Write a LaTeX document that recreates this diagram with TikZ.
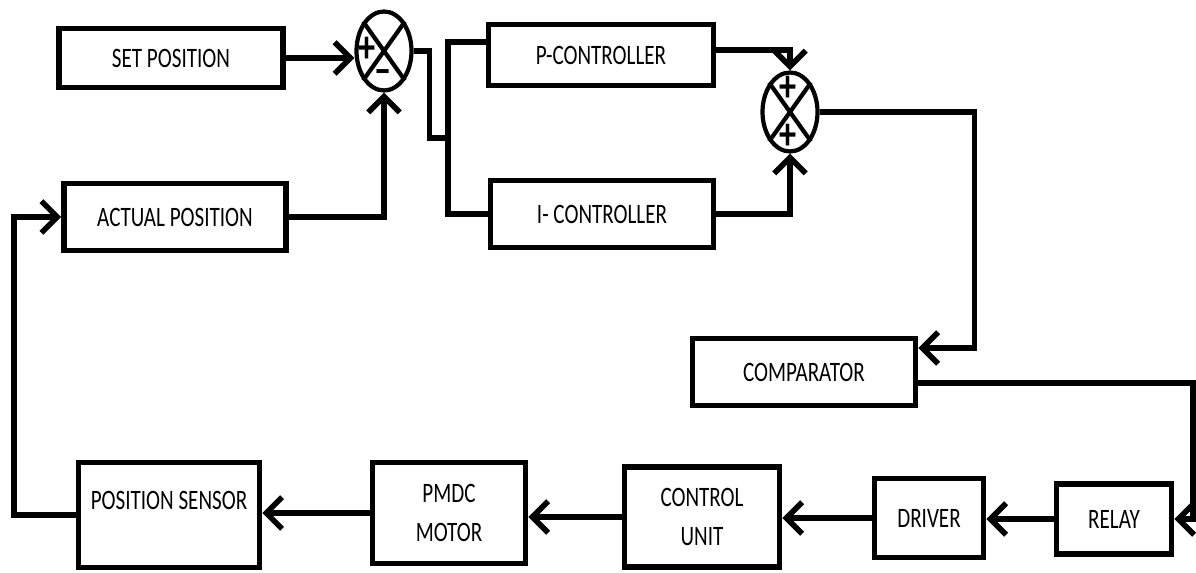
\documentclass[tikz,border=0pt]{standalone}
\usepackage{fontspec}
\setmainfont{Carlito}[FakeStretch=0.75]
\usetikzlibrary{arrows.meta, shapes.geometric}

\begin{document}
\begin{tikzpicture}[x=0.02cm, y=-0.02cm,
  box/.style={rectangle, draw, line width=3.2pt, align=center, inner sep=2pt,
              font=\fontsize{16}{22}\selectfont},
  junc/.style={ellipse, draw, line width=2.4pt, inner sep=0pt,
               minimum width=1.1cm, minimum height=1.58cm},
  sign/.style={font=\fontsize{26}{26}\selectfont\bfseries, inner sep=0pt},
  wire/.style={line width=3.2pt},
  arr/.style={wire, -{Straight Barb[length=9pt, width=18pt]}}
]
\useasboundingbox (0,0) rectangle (1196,573);

% Top: set point and feedback value
\node[box, minimum width=4.48cm, minimum height=1.18cm] (setpos) at (171,58)  {SET POSITION};
\node[box, minimum width=4.44cm, minimum height=1.34cm] (actpos) at (175,217) {ACTUAL POSITION};

% Error junction
\node[junc] (sum1) at (384,51) {};
\draw[line width=2.4pt] (sum1.north west) -- (sum1.south east)
                        (sum1.north east) -- (sum1.south west);
\node[sign] (sum1p) at (367,50) {+};
\node[sign] (sum1m) at (383,77) {--};

% PI branches
\node[box, minimum width=4.5cm, minimum height=1.22cm]  (pctrl) at (601,55)  {P-CONTROLLER};
\node[box, minimum width=4.46cm, minimum height=1.34cm] (ictrl) at (602,214) {I- CONTROLLER};
\coordinate (split) at (448,138);

% Summing junction
\node[junc] (sum2) at (790,112) {};
\draw[line width=2.4pt] (sum2.north west) -- (sum2.south east)
                        (sum2.north east) -- (sum2.south west);
\node[sign] (sum2a) at (788,89)  {+};
\node[sign] (sum2b) at (788,137) {+};

\node[box, minimum width=4.46cm, minimum height=1.34cm] (comp) at (804,372) {COMPARATOR};

% Bottom row
\node[box, minimum width=2.3cm,  minimum height=1.4cm]  (relay)  at (1114,519) {RELAY};
\node[box, minimum width=2.18cm, minimum height=1.58cm] (driver) at (929,518)  {DRIVER};
\node[box, minimum width=3.1cm,  minimum height=2.0cm]  (ctrl)   at (702,517)  {CONTROL\\UNIT};
\node[box, minimum width=3.06cm, minimum height=2.02cm] (pmdc)   at (449,513)  {PMDC\\MOTOR};
\node[box, minimum width=3.62cm, minimum height=2.1cm, text depth=0.6cm] (sensor) at (169,515) {POSITION SENSOR};

% Error
\draw[arr] (setpos.east) -- (setpos.east -| sum1.west);
\draw[arr] (actpos.east) -| (sum1.south);
\draw[wire] (sum1.east) -- ++(16,0) |- (split);
\draw[wire] ([yshift=0.26cm]pctrl.west) -| (split) |- (ictrl.west);

% Sum of P and I
\draw[arr] ([yshift=0.1cm]pctrl.east) -| (sum2.north);
\draw[arr] (ictrl.east) -| (sum2.south);
\draw[arr] (sum2.east) -- ++(155,0) |- ([yshift=0.48cm]comp.east);
\draw[arr] ([yshift=-0.22cm]comp.east) -- ++(275,0) |- (relay.east);

% Plant chain
\draw[arr] (relay.west)  -- (relay.west -| driver.east);
\draw[arr] (driver.west) -- (driver.west -| ctrl.east);
\draw[arr] (ctrl.west)   -- (ctrl.west -| pmdc.east);
\draw[arr] (pmdc.west)   -- (pmdc.west -| sensor.east);

% Feedback
\draw[arr] (sensor.west) -- ++(-62,0) |- (actpos.west);
\end{tikzpicture}
\end{document}
